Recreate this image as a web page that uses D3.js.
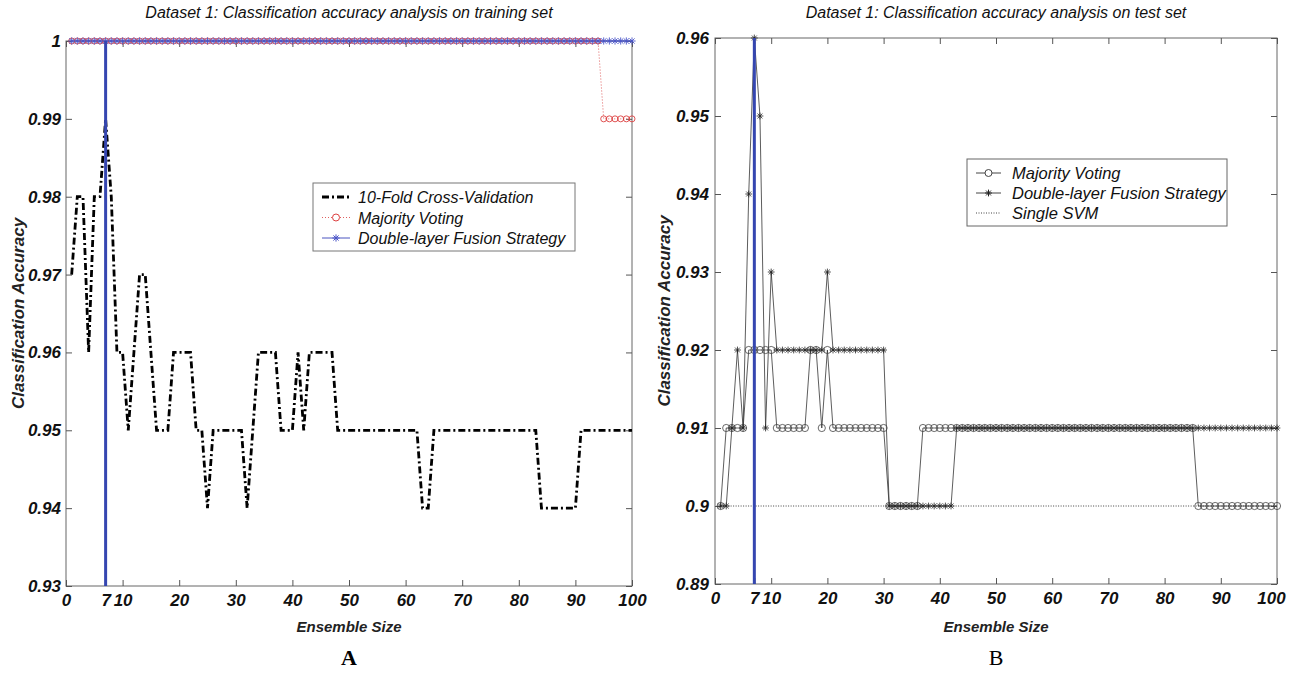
<!DOCTYPE html>
<html>
<head>
<meta charset="utf-8">
<script src="https://cdn.jsdelivr.net/npm/d3@7/dist/d3.min.js"></script>
<style>
body { margin: 0; background: #fff; }
svg { display: block; }
text { font-family: 'Liberation Sans Narrow', 'Liberation Sans', Arial, sans-serif; }
</style>
</head>
<body>
<svg id="chart" width="1290" height="677"></svg>
<script>
// ensemble sizes 1..100
const ensembleSize = d3.range(1, 101);

const xTicks = [0, 7, 10, 20, 30, 40, 50, 60, 70, 80, 90, 100];
const xTickLabels = ["0", "7", "10", "20", "30", "40", "50", "60", "70", "80", "90", "100"];

// panel A - training set
const trainYTicks = [0.93, 0.94, 0.95, 0.96, 0.97, 0.98, 0.99, 1];
const trainYTickLabels = ["0.93", "0.94", "0.95", "0.96", "0.97", "0.98", "0.99", "1"];

const cvTrain = [
  0.97, 0.98, 0.98, 0.96, 0.98, 0.98, 0.99, 0.98, 0.96, 0.96,
  0.95, 0.96, 0.97, 0.97, 0.96, 0.95, 0.95, 0.95, 0.96, 0.96,
  0.96, 0.96, 0.95, 0.95, 0.94, 0.95, 0.95, 0.95, 0.95, 0.95,
  0.95, 0.94, 0.95, 0.96, 0.96, 0.96, 0.96, 0.95, 0.95, 0.95,
  0.96, 0.95, 0.96, 0.96, 0.96, 0.96, 0.96, 0.95, 0.95, 0.95,
  0.95, 0.95, 0.95, 0.95, 0.95, 0.95, 0.95, 0.95, 0.95, 0.95,
  0.95, 0.95, 0.94, 0.94, 0.95, 0.95, 0.95, 0.95, 0.95, 0.95,
  0.95, 0.95, 0.95, 0.95, 0.95, 0.95, 0.95, 0.95, 0.95, 0.95,
  0.95, 0.95, 0.95, 0.94, 0.94, 0.94, 0.94, 0.94, 0.94, 0.94,
  0.95, 0.95, 0.95, 0.95, 0.95, 0.95, 0.95, 0.95, 0.95, 0.95
];
const mvTrain = [
  1, 1, 1, 1, 1, 1, 1, 1, 1, 1,
  1, 1, 1, 1, 1, 1, 1, 1, 1, 1,
  1, 1, 1, 1, 1, 1, 1, 1, 1, 1,
  1, 1, 1, 1, 1, 1, 1, 1, 1, 1,
  1, 1, 1, 1, 1, 1, 1, 1, 1, 1,
  1, 1, 1, 1, 1, 1, 1, 1, 1, 1,
  1, 1, 1, 1, 1, 1, 1, 1, 1, 1,
  1, 1, 1, 1, 1, 1, 1, 1, 1, 1,
  1, 1, 1, 1, 1, 1, 1, 1, 1, 1,
  1, 1, 1, 1, 0.99, 0.99, 0.99, 0.99, 0.99, 0.99
];
const dfTrain = [
  1, 1, 1, 1, 1, 1, 1, 1, 1, 1,
  1, 1, 1, 1, 1, 1, 1, 1, 1, 1,
  1, 1, 1, 1, 1, 1, 1, 1, 1, 1,
  1, 1, 1, 1, 1, 1, 1, 1, 1, 1,
  1, 1, 1, 1, 1, 1, 1, 1, 1, 1,
  1, 1, 1, 1, 1, 1, 1, 1, 1, 1,
  1, 1, 1, 1, 1, 1, 1, 1, 1, 1,
  1, 1, 1, 1, 1, 1, 1, 1, 1, 1,
  1, 1, 1, 1, 1, 1, 1, 1, 1, 1,
  1, 1, 1, 1, 1, 1, 1, 1, 1, 1
];

// panel B - test set
const testYTicks = [0.89, 0.9, 0.91, 0.92, 0.93, 0.94, 0.95, 0.96];
const testYTickLabels = ["0.89", "0.9", "0.91", "0.92", "0.93", "0.94", "0.95", "0.96"];

const mvTest = [
  0.90, 0.91, 0.91, 0.91, 0.91, 0.92, 0.92, 0.92, 0.92, 0.92,
  0.91, 0.91, 0.91, 0.91, 0.91, 0.91, 0.92, 0.92, 0.91, 0.92,
  0.91, 0.91, 0.91, 0.91, 0.91, 0.91, 0.91, 0.91, 0.91, 0.91,
  0.90, 0.90, 0.90, 0.90, 0.90, 0.90, 0.91, 0.91, 0.91, 0.91,
  0.91, 0.91, 0.91, 0.91, 0.91, 0.91, 0.91, 0.91, 0.91, 0.91,
  0.91, 0.91, 0.91, 0.91, 0.91, 0.91, 0.91, 0.91, 0.91, 0.91,
  0.91, 0.91, 0.91, 0.91, 0.91, 0.91, 0.91, 0.91, 0.91, 0.91,
  0.91, 0.91, 0.91, 0.91, 0.91, 0.91, 0.91, 0.91, 0.91, 0.91,
  0.91, 0.91, 0.91, 0.91, 0.91, 0.90, 0.90, 0.90, 0.90, 0.90,
  0.90, 0.90, 0.90, 0.90, 0.90, 0.90, 0.90, 0.90, 0.90, 0.90
];
const dfTest = [
  0.90, 0.90, 0.91, 0.92, 0.91, 0.94, 0.96, 0.95, 0.91, 0.93,
  0.92, 0.92, 0.92, 0.92, 0.92, 0.92, 0.92, 0.92, 0.92, 0.93,
  0.92, 0.92, 0.92, 0.92, 0.92, 0.92, 0.92, 0.92, 0.92, 0.92,
  0.90, 0.90, 0.90, 0.90, 0.90, 0.90, 0.90, 0.90, 0.90, 0.90,
  0.90, 0.90, 0.91, 0.91, 0.91, 0.91, 0.91, 0.91, 0.91, 0.91,
  0.91, 0.91, 0.91, 0.91, 0.91, 0.91, 0.91, 0.91, 0.91, 0.91,
  0.91, 0.91, 0.91, 0.91, 0.91, 0.91, 0.91, 0.91, 0.91, 0.91,
  0.91, 0.91, 0.91, 0.91, 0.91, 0.91, 0.91, 0.91, 0.91, 0.91,
  0.91, 0.91, 0.91, 0.91, 0.91, 0.91, 0.91, 0.91, 0.91, 0.91,
  0.91, 0.91, 0.91, 0.91, 0.91, 0.91, 0.91, 0.91, 0.91, 0.91
];
// single SVM is flat over the whole range
const svmX = [1, 100];
const svmTest = [0.90, 0.90];

const bestSize = 7;

const svg = d3.select("#chart");

// matlab style asterisk
function starPath(r) {
  const k = r * 0.72;
  return `M${-r},0H${r}M0,${-r}V${r}M${-k},${-k}L${k},${k}M${-k},${k}L${k},${-k}`;
}

function makePanel(p) {
  const g = svg.append("g");
  const x = d3.scaleLinear().domain([0, 100]).range([p.left, p.right]);
  const y = d3.scaleLinear().domain(p.yDomain).range([p.bottom, p.top]);

  // frame
  g.append("rect")
    .attr("x", p.left).attr("y", p.top)
    .attr("width", p.right - p.left).attr("height", p.bottom - p.top)
    .attr("fill", "none").attr("stroke", "#666").attr("stroke-width", 1);

  const axisStyle = (sel) => {
    sel.select(".domain").remove();
    sel.selectAll(".tick line").attr("stroke", "#555");
    sel.selectAll(".tick text")
      .attr("fill", "#111")
      .style("font-size", "17px").style("font-style", "italic").style("font-weight", "bold");
  };

  const bottomAxis = g.append("g").attr("transform", `translate(0,${p.bottom})`)
    .call(d3.axisBottom(x).tickValues(xTicks).tickSize(-6).tickPadding(8)
      .tickFormat((d, i) => xTickLabels[i]))
    .call(axisStyle);
  // keep "100" inside the page
  bottomAxis.selectAll(".tick text").filter(d => d === 100).attr("dx", p.lastDx);

  g.append("g").attr("transform", `translate(0,${p.top})`)
    .call(d3.axisTop(x).tickValues(xTicks).tickSize(-6).tickFormat(""))
    .call(axisStyle);
  g.append("g").attr("transform", `translate(${p.left},0)`)
    .call(d3.axisLeft(y).tickValues(p.yTicks).tickSize(-6).tickPadding(p.yPad)
      .tickFormat((d, i) => p.yLabels[i]))
    .call(axisStyle);
  g.append("g").attr("transform", `translate(${p.right},0)`)
    .call(d3.axisRight(y).tickValues(p.yTicks).tickSize(-6).tickFormat(""))
    .call(axisStyle);

  const cx = (p.left + p.right) / 2;
  g.append("text").attr("x", cx).attr("y", 18).attr("text-anchor", "middle")
    .style("font-size", "16px").style("font-style", "italic").attr("fill", "#111")
    .text(p.title);
  g.append("text").attr("x", cx).attr("y", 632).attr("text-anchor", "middle")
    .style("font-size", "15px").style("font-style", "italic").style("font-weight", "bold")
    .attr("fill", "#222").text("Ensemble Size");
  g.append("text")
    .attr("transform", `translate(${p.yTitleX},${(p.top + p.bottom) / 2}) rotate(-90)`)
    .attr("text-anchor", "middle")
    .style("font-size", "17px").style("font-style", "italic").style("font-weight", "bold")
    .attr("fill", "#222").text("Classification Accuracy");
  g.append("text").attr("x", cx).attr("y", 665).attr("text-anchor", "middle")
    .style("font-family", "'Liberation Serif', 'Times New Roman', serif")
    .style("font-size", "22px").style("font-weight", p.letterWeight)
    .text(p.letter);

  return { g, x, y };
}

// ---------- panel A ----------
const A = makePanel({
  left: 66, right: 632, top: 41, bottom: 586,
  yDomain: [0.93, 1], yTicks: trainYTicks, yLabels: trainYTickLabels, yPad: 5,
  yTitleX: 24, title: "Dataset 1: Classification accuracy analysis on training set",
  letter: "A", letterWeight: "bold", lastDx: 0
});

const lineA = (vals) => d3.line().x((d, i) => A.x(ensembleSize[i])).y(d => A.y(d))(vals);

A.g.append("path").attr("d", lineA(cvTrain))
  .attr("fill", "none").attr("stroke", "#000").attr("stroke-width", 2.8)
  .attr("stroke-dasharray", "7,3,2,3");

A.g.append("path").attr("d", lineA(mvTrain))
  .attr("fill", "none").attr("stroke", "#e06060").attr("stroke-width", 1)
  .attr("stroke-dasharray", "1,2");
A.g.append("path").attr("d", lineA(dfTrain))
  .attr("fill", "none").attr("stroke", "#4a55c0").attr("stroke-width", 1);

A.g.selectAll("circle.mv").data(mvTrain).join("circle").attr("class", "mv")
  .attr("cx", (d, i) => A.x(ensembleSize[i])).attr("cy", d => A.y(d)).attr("r", 3)
  .attr("fill", "none").attr("stroke", "#dd4040").attr("stroke-width", 0.9);
A.g.selectAll("path.df").data(dfTrain).join("path").attr("class", "df")
  .attr("d", starPath(3.6))
  .attr("transform", (d, i) => `translate(${A.x(ensembleSize[i])},${A.y(d)})`)
  .attr("fill", "none").attr("stroke", "#4a55c8").attr("stroke-width", 0.9);

A.g.append("line")
  .attr("x1", A.x(bestSize)).attr("x2", A.x(bestSize))
  .attr("y1", A.y(1)).attr("y2", A.y(0.93))
  .attr("stroke", "#3546b0").attr("stroke-width", 3);

// legend A
const legA = A.g.append("g").attr("transform", "translate(313,183)");
legA.append("rect").attr("width", 262).attr("height", 68)
  .attr("fill", "#fff").attr("stroke", "#777");
const legAItems = ["10-Fold Cross-Validation", "Majority Voting", "Double-layer Fusion Strategy"];
legAItems.forEach((t, i) => {
  const yy = 14 + i * 20.5;
  legA.append("text").attr("x", 45).attr("y", yy + 6)
    .style("font-size", "16px").style("font-style", "italic").attr("fill", "#111").text(t);
});
legA.append("line").attr("x1", 9).attr("x2", 37).attr("y1", 14).attr("y2", 14)
  .attr("stroke", "#000").attr("stroke-width", 2.8).attr("stroke-dasharray", "7,3,2,3");
legA.append("line").attr("x1", 9).attr("x2", 37).attr("y1", 34.5).attr("y2", 34.5)
  .attr("stroke", "#e06060").attr("stroke-dasharray", "1,2");
legA.append("circle").attr("cx", 23).attr("cy", 34.5).attr("r", 3.5)
  .attr("fill", "#fff").attr("stroke", "#dd4040");
legA.append("line").attr("x1", 9).attr("x2", 37).attr("y1", 55).attr("y2", 55)
  .attr("stroke", "#4a55c0");
legA.append("path").attr("d", starPath(3.6)).attr("transform", "translate(23,55)")
  .attr("fill", "none").attr("stroke", "#4a55c8");

// ---------- panel B ----------
const B = makePanel({
  left: 715, right: 1277, top: 38, bottom: 584,
  yDomain: [0.89, 0.96], yTicks: testYTicks, yLabels: testYTickLabels, yPad: 6,
  yTitleX: 670, title: "Dataset 1: Classification accuracy analysis on test set",
  letter: "B", letterWeight: "normal", lastDx: -6
});

const lineB = (xs, vals) => d3.line().x((d, i) => B.x(xs[i])).y(d => B.y(d))(vals);

B.g.append("path").attr("d", lineB(svmX, svmTest))
  .attr("fill", "none").attr("stroke", "#444").attr("stroke-width", 1)
  .attr("stroke-dasharray", "1,1.5");
B.g.append("path").attr("d", lineB(ensembleSize, mvTest))
  .attr("fill", "none").attr("stroke", "#333").attr("stroke-width", 0.8);
B.g.append("path").attr("d", lineB(ensembleSize, dfTest))
  .attr("fill", "none").attr("stroke", "#333").attr("stroke-width", 0.8);

B.g.selectAll("circle.mv").data(mvTest).join("circle").attr("class", "mv")
  .attr("cx", (d, i) => B.x(ensembleSize[i])).attr("cy", d => B.y(d)).attr("r", 3.6)
  .attr("fill", "none").attr("stroke", "#444").attr("stroke-width", 0.8);
B.g.selectAll("path.df").data(dfTest).join("path").attr("class", "df")
  .attr("d", starPath(3.4))
  .attr("transform", (d, i) => `translate(${B.x(ensembleSize[i])},${B.y(d)})`)
  .attr("fill", "none").attr("stroke", "#222").attr("stroke-width", 0.8);

B.g.append("line")
  .attr("x1", B.x(bestSize)).attr("x2", B.x(bestSize))
  .attr("y1", B.y(0.96)).attr("y2", B.y(0.89))
  .attr("stroke", "#3546b0").attr("stroke-width", 3);

// legend B
const legB = B.g.append("g").attr("transform", "translate(967,159)");
legB.append("rect").attr("width", 260).attr("height", 67)
  .attr("fill", "#fff").attr("stroke", "#666");
const legBItems = ["Majority Voting", "Double-layer Fusion Strategy", "Single SVM"];
legBItems.forEach((t, i) => {
  const yy = 14 + i * 20;
  legB.append("text").attr("x", 45).attr("y", yy + 6)
    .style("font-size", "16.5px").style("font-style", "italic").attr("fill", "#111").text(t);
});
legB.append("line").attr("x1", 9).attr("x2", 34).attr("y1", 14).attr("y2", 14).attr("stroke", "#444");
legB.append("circle").attr("cx", 21.5).attr("cy", 14).attr("r", 3.5)
  .attr("fill", "#fff").attr("stroke", "#444");
legB.append("line").attr("x1", 9).attr("x2", 34).attr("y1", 34).attr("y2", 34).attr("stroke", "#444");
legB.append("path").attr("d", starPath(3.4)).attr("transform", "translate(21.5,34)")
  .attr("fill", "none").attr("stroke", "#222");
legB.append("line").attr("x1", 9).attr("x2", 34).attr("y1", 54).attr("y2", 54)
  .attr("stroke", "#444").attr("stroke-dasharray", "1,1.5");
</script>
</body>
</html>
